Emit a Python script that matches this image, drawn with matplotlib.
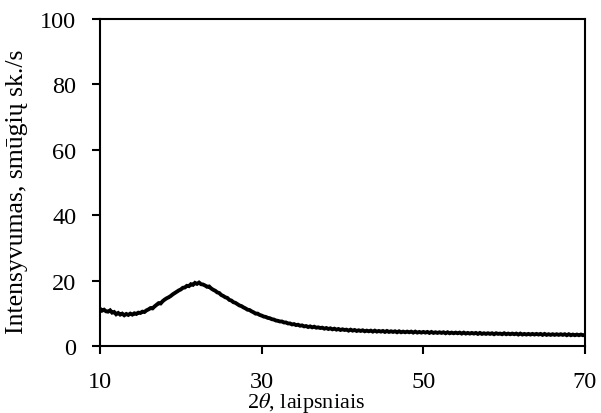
import numpy as np
import matplotlib
matplotlib.use("Agg")
import matplotlib.pyplot as plt

two_theta_start = 10.0
two_theta_end = 70.0
two_theta_step = 0.25

intensity = [
    11.4, 10.8, 11.1, 10.6,
    10.5, 10.9, 10.2, 10.4,
    9.7, 10.1, 9.6, 9.9,
    9.4, 9.8, 9.5, 9.9,
    9.6, 10.0, 9.8, 10.2,
    10.1, 10.5, 10.4, 10.9,
    11.2, 11.6, 11.5, 12.1,
    12.6, 13.1, 13.0, 13.7,
    14.2, 14.6, 14.9, 15.3,
    15.8, 16.2, 16.6, 17.0,
    17.3, 17.8, 17.9, 18.4,
    18.3, 18.9, 18.7, 19.3,
    19.0, 19.4, 18.9, 18.8,
    18.5, 18.1, 18.2, 17.6,
    17.2, 16.9, 16.4, 16.2,
    15.6, 15.3, 14.9, 14.7,
    14.1, 13.9, 13.4, 13.2,
    12.8, 12.4, 12.2, 11.8,
    11.5, 11.1, 11.0, 10.6,
    10.3, 9.9, 9.9, 9.5,
    9.3, 9.0, 8.9, 8.6,
    8.5, 8.2, 8.1, 7.8,
    7.7, 7.5, 7.5, 7.2,
    7.2, 6.9, 6.9, 6.6,
    6.7, 6.4, 6.5, 6.2,
    6.3, 6.0, 6.1, 5.8,
    6.0, 5.7, 5.9, 5.6,
    5.7, 5.5, 5.6, 5.3,
    5.5, 5.2, 5.4, 5.1,
    5.3, 5.0, 5.2, 4.9,
    5.1, 4.9, 5.0, 4.7,
    5.0, 4.7, 4.9, 4.6,
    4.8, 4.6, 4.8, 4.5,
    4.7, 4.5, 4.7, 4.4,
    4.7, 4.4, 4.6, 4.4,
    4.6, 4.3, 4.6, 4.3,
    4.5, 4.3, 4.5, 4.2,
    4.5, 4.2, 4.4, 4.2,
    4.4, 4.2, 4.4, 4.1,
    4.4, 4.1, 4.3, 4.1,
    4.3, 4.1, 4.3, 4.0,
    4.3, 4.0, 4.2, 4.0,
    4.2, 4.0, 4.2, 3.9,
    4.2, 3.9, 4.1, 3.9,
    4.1, 3.9, 4.1, 3.8,
    4.1, 3.8, 4.0, 3.8,
    4.0, 3.8, 4.0, 3.7,
    4.0, 3.7, 3.9, 3.7,
    3.9, 3.7, 3.9, 3.6,
    3.9, 3.7, 3.8, 3.6,
    3.9, 3.6, 3.8, 3.6,
    3.8, 3.6, 3.8, 3.5,
    3.8, 3.5, 3.7, 3.5,
    3.7, 3.5, 3.7, 3.5,
    3.7, 3.5, 3.7, 3.4,
    3.7, 3.4, 3.6, 3.4,
    3.6, 3.4, 3.6, 3.4,
    3.6, 3.4, 3.6, 3.3,
    3.6, 3.3, 3.5, 3.3,
    3.5, 3.3, 3.5, 3.3,
    3.4,
]

x_ticks = [10, 30, 50, 70]
y_ticks = [0, 20, 40, 60, 80, 100]
x_label = "2$\\theta$, laipsniais"
y_label = "Intensyvumas, smūgių sk./s"

plt.rcParams['font.family'] = ['Liberation Serif', 'DejaVu Serif']
plt.rcParams['mathtext.fontset'] = 'stix'

two_theta = np.arange(two_theta_start, two_theta_end + two_theta_step / 2, two_theta_step)

fig = plt.figure(figsize=(6.01, 4.14), dpi=100)
ax = fig.add_axes([100 / 601, 67 / 414, 485 / 601, 327 / 414])
ax.plot(two_theta, intensity, color='black', lw=2.8, solid_joinstyle='miter')

ax.set_xlim(10, 70)
ax.set_ylim(0, 100)
ax.set_xticks(x_ticks)
ax.set_yticks(y_ticks)
ax.tick_params(direction='out', length=6, width=1.5, labelsize=17.5)
ax.tick_params(axis='x', pad=12)
ax.tick_params(axis='y', pad=11)
for s in ax.spines.values():
    s.set_linewidth(1.5)

ax.set_xlabel(x_label, fontsize=16)
ax.xaxis.set_label_coords((306 - 100) / 485, (347 - 391) / 327)
ax.set_ylabel(y_label, fontsize=18.5)
ax.yaxis.set_label_coords((28 - 100) / 485, 0.475)

fig.savefig("out.png", dpi=100)
